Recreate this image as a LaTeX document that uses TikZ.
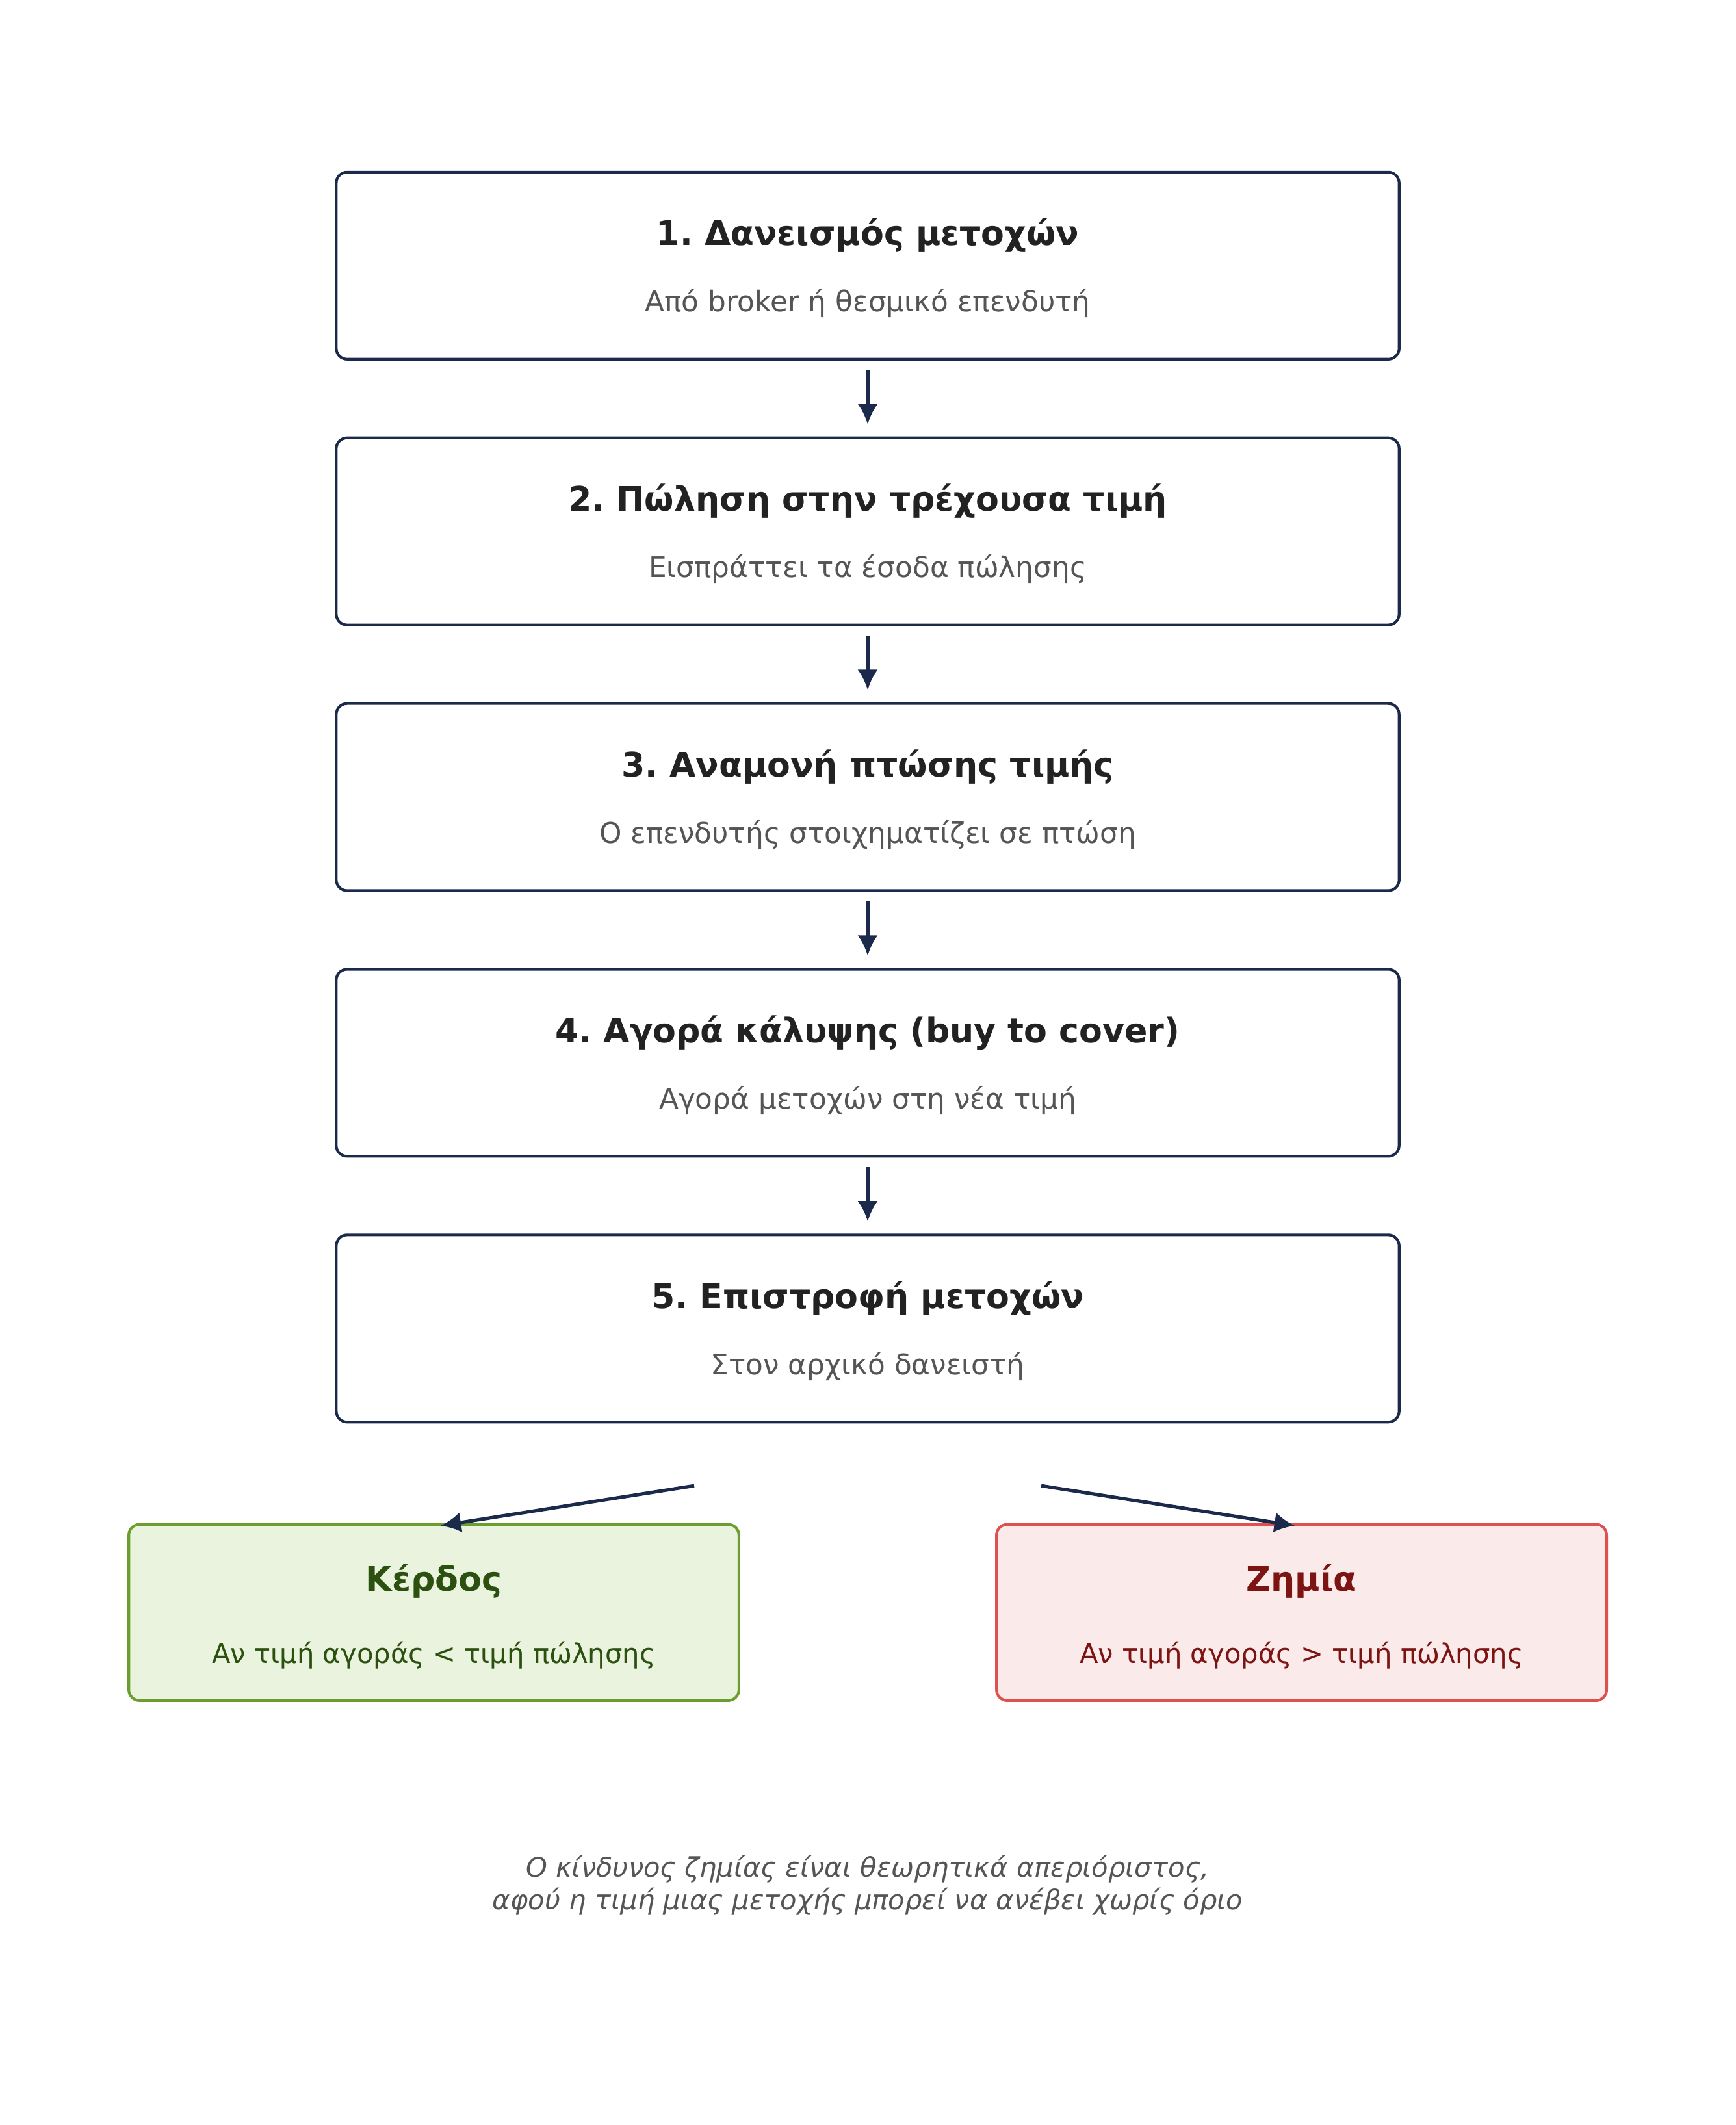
\documentclass[tikz,border=0pt]{standalone}
\usepackage{fontspec}
\setmainfont{DejaVu Sans}
\usetikzlibrary{positioning,arrows.meta}
\frenchspacing
\definecolor{navy}{HTML}{1B2A4A}
\definecolor{titletext}{HTML}{222222}
\definecolor{subtext}{HTML}{555555}
\definecolor{gainfill}{HTML}{EAF3DE}
\definecolor{gainline}{HTML}{6B9E2E}
\definecolor{gaintext}{HTML}{2C5010}
\definecolor{lossfill}{HTML}{FBEAEA}
\definecolor{lossline}{HTML}{E05050}
\definecolor{losstext}{HTML}{7D1414}
\tikzset{
  stepbox/.style={draw=navy, line width=2pt, rounded corners=8pt, rectangle, minimum width=784pt, minimum height=138pt},
  steptitle/.style={anchor=base, text=titletext, font=\fontsize{25}{30}\selectfont\bfseries},
  stepsub/.style={anchor=base, text=subtext, font=\fontsize{21}{25}\selectfont},
  endbox/.style={line width=2pt, rounded corners=8pt, rectangle, minimum width=450pt, minimum height=130pt},
  endsub/.style={anchor=base, font=\fontsize{20}{24}\selectfont},
  flow/.style={draw=navy, line width=2.5pt, -{Latex[length=15pt,width=15pt]}}
}

\begin{document}
\begin{tikzpicture}[x=1pt, y=-1pt]
    \useasboundingbox (0, 0) rectangle (1280, 1567.6);
    \node[stepbox] (s1) at (640, 196) {};
    \node[stepbox, below=56pt of s1] (s2) {};
    \node[stepbox, below=56pt of s2] (s3) {};
    \node[stepbox, below=56pt of s3] (s4) {};
    \node[stepbox, below=56pt of s4] (s5) {};
    \node[steptitle] (t1) at ([yshift=15pt]s1.center) {1. Δανεισμός μετοχών};
    \node[stepsub] (d1) at ([yshift=-34pt]s1.center) {Από broker ή θεσμικό επενδυτή};
    \node[steptitle] (t2) at ([yshift=15pt]s2.center) {2. Πώληση στην τρέχουσα τιμή};
    \node[stepsub] (d2) at ([yshift=-34pt]s2.center) {Εισπράττει τα έσοδα πώλησης};
    \node[steptitle] (t3) at ([yshift=15pt]s3.center) {3. Αναμονή πτώσης τιμής};
    \node[stepsub] (d3) at ([yshift=-34pt]s3.center) {Ο επενδυτής στοιχηματίζει σε πτώση};
    \node[steptitle] (t4) at ([yshift=15pt]s4.center) {4. Αγορά κάλυψης (buy to cover)};
    \node[stepsub] (d4) at ([yshift=-34pt]s4.center) {Αγορά μετοχών στη νέα τιμή};
    \node[steptitle] (t5) at ([yshift=15pt]s5.center) {5. Επιστροφή μετοχών};
    \node[stepsub] (d5) at ([yshift=-34pt]s5.center) {Στον αρχικό δανειστή};
    \draw[flow] ([yshift=-7pt]s1.south) -- ([yshift=9pt]s2.north);
    \draw[flow] ([yshift=-7pt]s2.south) -- ([yshift=9pt]s3.north);
    \draw[flow] ([yshift=-7pt]s3.south) -- ([yshift=9pt]s4.north);
    \draw[flow] ([yshift=-7pt]s4.south) -- ([yshift=9pt]s5.north);
    \node[endbox, draw=gainline, fill=gainfill] (gain) at (320, 1189.5) {};
    \node[endbox, draw=lossline, fill=lossfill] (loss) at (960, 1189.5) {};
    \node[steptitle, text=gaintext] (gt) at ([yshift=15.5pt]gain.center) {Κέρδος};
    \node[endsub, text=gaintext] (gd) at ([yshift=-37.5pt]gain.center) {Αν τιμή αγοράς < τιμή πώλησης};
    \node[steptitle, text=losstext] (lt) at ([yshift=15.5pt]loss.center) {Ζημία};
    \node[endsub, text=losstext] (ld) at ([yshift=-37.5pt]loss.center) {Αν τιμή αγοράς > τιμή πώλησης};
    \coordinate (forkl) at ([xshift=-128pt, yshift=-46pt]s5.south);
    \coordinate (forkr) at ([xshift=128pt, yshift=-46pt]s5.south);
    \draw[flow] (forkl) -- ([xshift=5pt, yshift=-2pt]gain.north);
    \draw[flow] (forkr) -- ([xshift=-5pt, yshift=-2pt]loss.north);
    \node[align=center, text=subtext, font=\fontsize{20}{24}\selectfont\itshape] (note) at (640, 1391) {Ο κίνδυνος ζημίας είναι θεωρητικά απεριόριστος,\\αφού η τιμή μιας μετοχής μπορεί να ανέβει χωρίς όριο};
\end{tikzpicture}
\end{document}
